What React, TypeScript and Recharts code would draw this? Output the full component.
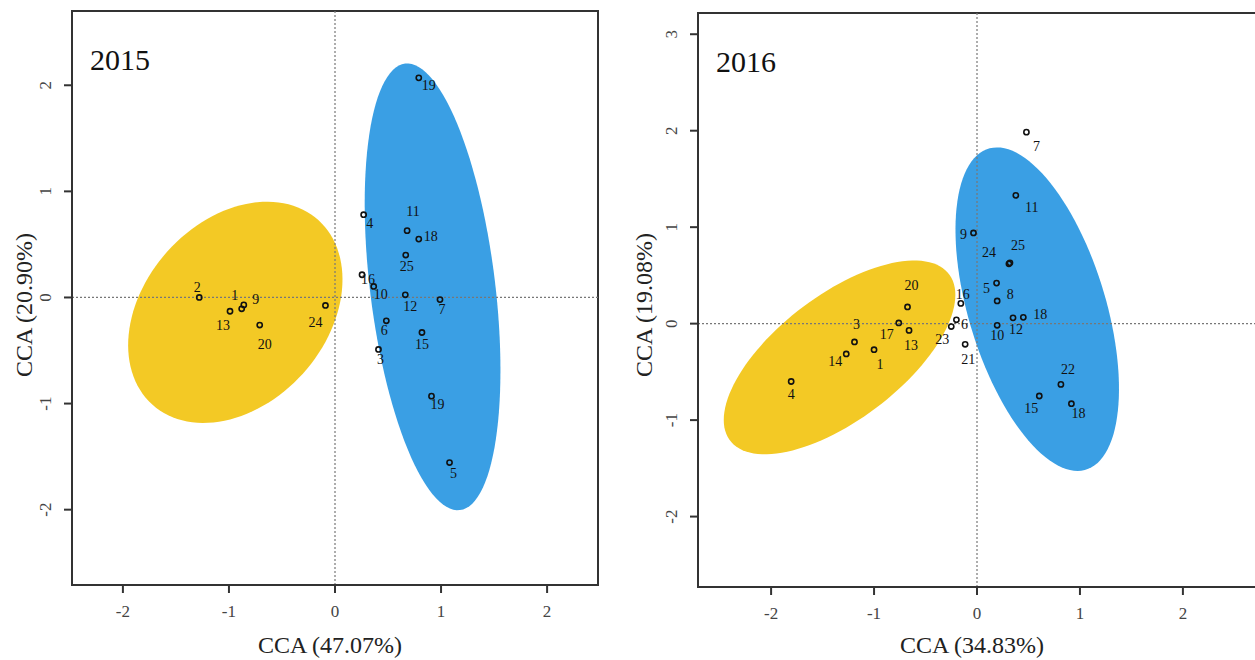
import React from "react";
import { ScatterChart, Scatter, XAxis, YAxis, ReferenceLine, ReferenceArea, Label } from "recharts";

const FONT = '"Liberation Serif", "Times New Roman", serif';
const INK = "#333";

// 2015 site scores
const sites2015 = ["2", "1", "9", "13", "20", "24", "4", "11", "18", "25", "16", "10", "12", "7", "6", "15", "3", "19", "19", "5"];
const cca1_2015 = [-1.28, -0.88, -0.86, -0.99, -0.71, -0.09, 0.27, 0.68, 0.79, 0.667, 0.255, 0.365, 0.663, 0.99, 0.484, 0.82, 0.41, 0.79, 0.91, 1.08];
const cca2_2015 = [0.0, -0.107, -0.07, -0.13, -0.26, -0.075, 0.78, 0.63, 0.55, 0.4, 0.214, 0.104, 0.025, -0.02, -0.22, -0.33, -0.49, 2.07, -0.93, -1.556];

// 2016 site scores
const sites2016 = ["20", "3", "17", "13", "1", "14", "4", "16", "6", "23", "21", "10", "12", "18", "5", "8", "7", "11", "9", "24", "25", "22", "15", "18"];
const cca1_2016 = [-0.675, -1.19, -0.76, -0.66, -1.0, -1.27, -1.805, -0.157, -0.2, -0.25, -0.115, 0.196, 0.35, 0.45, 0.19, 0.196, 0.48, 0.377, -0.034, 0.31, 0.32, 0.815, 0.605, 0.917];
const cca2_2016 = [0.173, -0.19, 0.007, -0.07, -0.27, -0.314, -0.6, 0.21, 0.04, -0.03, -0.214, -0.017, 0.06, 0.065, 0.42, 0.235, 1.985, 1.33, 0.94, 0.62, 0.63, -0.63, -0.75, -0.83];

// group ellipses: centre, semi-axes, rotation (deg)
const ellipseCentres2015 = [[-0.94, -0.14], [0.92, 0.1]];
const ellipseAxes2015 = [[1.17, 0.86], [2.12, 0.59]];
const ellipseAngles2015 = [48, 97];
const ellipseCentres2016 = [[-1.335, -0.35], [0.585, 0.15]];
const ellipseAxes2016 = [[1.37, 0.63], [1.73, 0.67]];
const ellipseAngles2016 = [40, 105.5];
const ellipseColours = ["#F3C925", "#3A9FE4"];

// label nudges in px (layout only)
const nudge2015 = [[-2, -10], [-7, -13], [12, -5], [-7, 14], [5, 19], [-10, 17], [6, 9], [6, -19], [12, -3], [1, 11], [6, 5], [7, 8], [5, 12], [2, 10], [-2, 10], [0, 12], [2, 10], [10, 8], [6, 8], [4, 11]];
const nudge2016 = [[4, -21], [2, -17], [-12, 12], [2, 15], [6, 15], [-11, 8], [0, 13], [2, -9], [8, 5], [-9, 13], [3, 15], [0, 10], [3, 12], [17, -3], [-10, 5], [13, -6], [10, 14], [16, 12], [-10, 2], [-20, -11], [8, -17], [7, -15], [-8, 13], [7, 10]];

const ticks = [-2, -1, 0, 1, 2];

function ellipseShape(axes: number[], angle: number, fill: string) {
  return (p: any) => {
    const kx = Math.abs(p.width) / 2;
    const ky = Math.abs(p.height) / 2;
    const cx = p.x + p.width / 2;
    const cy = p.y + p.height / 2;
    const th = (angle * Math.PI) / 180;
    let d = "";
    for (let i = 0; i <= 120; i++) {
      const t = (i / 120) * 2 * Math.PI;
      const ex = axes[0] * Math.cos(t) * Math.cos(th) - axes[1] * Math.sin(t) * Math.sin(th);
      const ey = axes[0] * Math.cos(t) * Math.sin(th) + axes[1] * Math.sin(t) * Math.cos(th);
      d += (i === 0 ? "M" : "L") + (cx + ex * kx).toFixed(2) + "," + (cy - ey * ky).toFixed(2);
    }
    return <path d={d + "Z"} fill={fill} stroke="none" />;
  };
}

const SiteMark = (p: any) => (
  <g>
    <circle cx={p.cx} cy={p.cy} r={2.6} fill="none" stroke="#111" strokeWidth={1.6} />
    <text x={p.cx + p.payload.nx} y={p.cy + p.payload.ny} textAnchor="middle" dominantBaseline="central" fontSize={14} fontFamily={FONT} fill="#111">
      {p.payload.site}
    </text>
  </g>
);

const XTick = (p: any) => (
  <text x={p.x} y={p.y + 22} textAnchor="middle" fontSize={17} fontFamily={FONT} fill="#444">
    {p.payload.value}
  </text>
);

const YTick = (p: any) => {
  const x = p.x - 16;
  return (
    <text x={x} y={p.y} transform={`rotate(-90 ${x} ${p.y})`} textAnchor="middle" dominantBaseline="central" fontSize={17} fontFamily={FONT} fill="#444">
      {p.payload.value}
    </text>
  );
};

function Panel(props: any) {
  const { sites, cca1, cca2, nudge, centres, axes, angles, xDomain, yDomain, width, height, margin, title, xTitle, yTitle, xOff, yLabX } = props;
  const rows = sites.map((s: string, i: number) => ({ x: cca1[i], y: cca2[i], site: s, nx: nudge[i][0], ny: nudge[i][1] }));
  return (
    <ScatterChart width={width} height={height} margin={margin}>
      <XAxis
        type="number"
        dataKey="x"
        domain={xDomain}
        ticks={ticks}
        allowDataOverflow
        height={height - margin.top - 574}
        tickSize={8}
        tick={<XTick />}
        axisLine={{ stroke: INK, strokeWidth: 2 }}
        tickLine={{ stroke: INK, strokeWidth: 2 }}
        label={
          <Label
            content={(lp: any) => (
              <text x={lp.viewBox.x + lp.viewBox.width / 2 - 5} y={lp.viewBox.y + xOff} textAnchor="middle" fontSize={24} fontFamily={FONT} fill="#222">
                {xTitle}
              </text>
            )}
          />
        }
      />
      <YAxis
        type="number"
        dataKey="y"
        domain={yDomain}
        ticks={yDomain[1] > 3 ? [-2, -1, 0, 1, 2, 3] : ticks}
        allowDataOverflow
        width={72}
        tickSize={8}
        tick={<YTick />}
        axisLine={{ stroke: INK, strokeWidth: 2 }}
        tickLine={{ stroke: INK, strokeWidth: 2 }}
        label={
          <Label
            content={(lp: any) => {
              const x = yLabX;
              const y = 305;
              return (
                <text x={x} y={y} transform={`rotate(-90 ${x} ${y})`} textAnchor="middle" dominantBaseline="central" fontSize={24} fontFamily={FONT} fill="#222">
                  {yTitle}
                </text>
              );
            }}
          />
        }
      />
      {centres.map((c: number[], i: number) => (
        <ReferenceArea
          key={"e" + i}
          x1={c[0] - 1}
          x2={c[0] + 1}
          y1={c[1] - 1}
          y2={c[1] + 1}
          ifOverflow="visible"
          shape={ellipseShape(axes[i], angles[i], ellipseColours[i])}
        />
      ))}
      <ReferenceLine x={0} stroke="#777" strokeWidth={1.2} strokeDasharray="2 2" />
      <ReferenceLine y={0} stroke="#777" strokeWidth={1.2} strokeDasharray="2 2" />
      <ReferenceArea
        x1={xDomain[0]}
        x2={xDomain[1]}
        y1={yDomain[0]}
        y2={yDomain[1]}
        ifOverflow="visible"
        fill="none"
        fillOpacity={0}
        stroke={INK}
        strokeWidth={2}
        label={
          <Label
            content={(lp: any) => (
              <text x={lp.viewBox.x + 18} y={lp.viewBox.y + 59} fontSize={30} fontFamily={FONT} fill="#111">
                {title}
              </text>
            )}
          />
        }
      />
      <Scatter data={rows} shape={<SiteMark />} isAnimationActive={false} />
    </ScatterChart>
  );
}

export default function App() {
  return (
    <div style={{ position: "absolute", left: 0, top: 0, width: 1255, height: 660, overflow: "hidden", background: "#fff" }}>
      <div style={{ position: "absolute", left: 0, top: 0 }}>
        <Panel
          sites={sites2015}
          cca1={cca1_2015}
          cca2={cca2_2015}
          nudge={nudge2015}
          centres={ellipseCentres2015}
          axes={ellipseAxes2015}
          angles={ellipseAngles2015}
          xDomain={[-2.48, 2.48]}
          yDomain={[-2.71, 2.7]}
          width={620}
          height={660}
          margin={{ top: 11, right: 22, left: 0, bottom: 0 }}
          title="2015"
          xTitle="CCA (47.07%)"
          yTitle="CCA (20.90%)"
          xOff={68}
          yLabX={24}
        />
      </div>
      <div style={{ position: "absolute", left: 626, top: 0 }}>
        <Panel
          sites={sites2016}
          cca1={cca1_2016}
          cca2={cca2_2016}
          nudge={nudge2016}
          centres={ellipseCentres2016}
          axes={ellipseAxes2016}
          angles={ellipseAngles2016}
          xDomain={[-2.71, 2.71]}
          yDomain={[-2.73, 3.22]}
          width={634}
          height={660}
          margin={{ top: 13, right: 4, left: 0, bottom: 0 }}
          title="2016"
          xTitle="CCA (34.83%)"
          yTitle="CCA (19.08%)"
          xOff={66}
          yLabX={18}
        />
      </div>
    </div>
  );
}
